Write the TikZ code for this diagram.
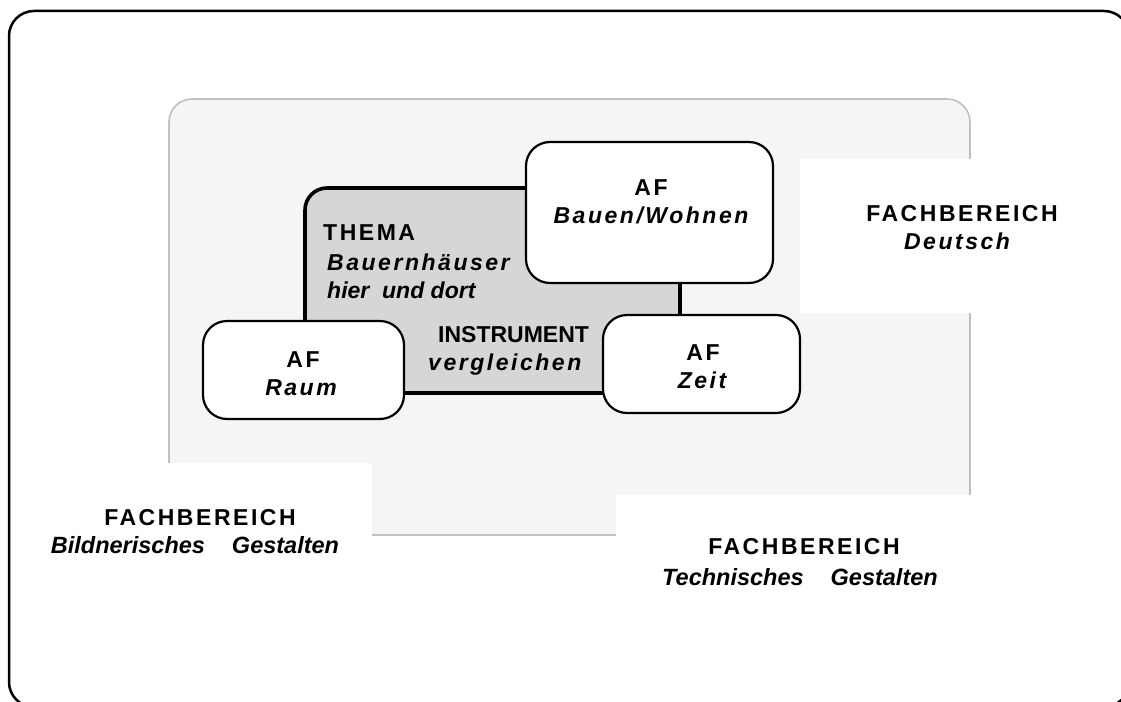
\documentclass[tikz,border=0pt]{standalone}
\usepackage{fontspec}
\setmainfont{Liberation Sans}
\newfontfamily\spacedfont[LetterSpace=11]{Liberation Sans}
\definecolor{panelfill}{HTML}{F5F5F5}
\definecolor{panelline}{HTML}{C0C0C0}
\definecolor{themafill}{HTML}{D6D6D6}
\begin{document}
\begin{tikzpicture}[x=1pt,y=-1pt,
  frame/.style={draw=black,line width=2.5pt,rounded corners=25pt},
  panel/.style={draw=panelline,fill=panelfill,line width=1.6pt,rounded corners=23pt},
  cover/.style={fill=white,draw=none},
  themabox/.style={draw=black,fill=themafill,line width=3.6pt,rounded corners=22pt},
  afbox/.style={draw=black,fill=white,line width=2.2pt,rounded corners=24pt},
  sp/.style={inner sep=0pt,font=\spacedfont\fontsize{23}{27}\selectfont\bfseries},
  spi/.style={inner sep=0pt,font=\spacedfont\fontsize{23}{27}\selectfont\bfseries\itshape},
  nrm/.style={inner sep=0pt,font=\fontsize{23}{27}\selectfont\bfseries},
  nrmi/.style={inner sep=0pt,font=\fontsize{23}{27}\selectfont\bfseries\itshape},
  wide/.style={inner sep=0pt,font=\fontsize{23.5}{27}\selectfont\bfseries\itshape}
]
\useasboundingbox (0,0) rectangle (1121,701);
\clip (0,0) rectangle (1121,701);
% outer frame
\draw[frame] (9,11) rectangle (1129,707);
% grey panel
\draw[panel] (169,99) rectangle (970,535);
% white covers
\fill[cover] (800,159) rectangle (1010,313);
\fill[cover] (60,463) rectangle (372,600);
\fill[cover] (616,495) rectangle (1010,620);
% THEMA box
\draw[themabox] (305,188) rectangle (680,393);
% AF boxes
\draw[afbox] (526,142) rectangle (773,283);
\draw[afbox] (603,315) rectangle (800,413);
\draw[afbox] (203,321) rectangle (404,419);
% texts
\node[sp,anchor=base west] (thema) at (323,240) {THEMA};
\node[spi,anchor=base west] (bauernh) at (327,270) {Bauernhäuser};
\node[nrmi,anchor=base west] (hier) at (327,298) {hier\ \ und dort};
\node[nrm,anchor=base west] (instr) at (438,342) {INSTRUMENT};
\node[spi,anchor=base west] (vergl) at (428,370) {vergleichen};
\node[sp,anchor=base] (afbau) at (651,195) {AF};
\node[spi,anchor=base] (bauen) at (651,223) {Bauen/Wohnen};
\node[sp,anchor=base] (afzeit) at (703,360) {AF};
\node[spi,anchor=base] (zeit) at (702,388) {Zeit};
\node[sp,anchor=base] (afraum) at (303,367) {AF};
\node[spi,anchor=base] (raum) at (301,395) {Raum};
\node[sp,anchor=base] (fbd) at (962,221) {FACHBEREICH};
\node[spi,anchor=base] (deutsch) at (957,249) {Deutsch};
\node[sp,anchor=base] (fbb) at (200,525) {FACHBEREICH};
\node[wide,anchor=base] (bild) at (195,553) {Bildnerisches\hspace{27pt}Gestalten};
\node[sp,anchor=base] (fbt) at (804,554) {FACHBEREICH};
\node[wide,anchor=base] (tech) at (800,585) {Technisches\hspace{27pt}Gestalten};
\end{tikzpicture}
\end{document}
